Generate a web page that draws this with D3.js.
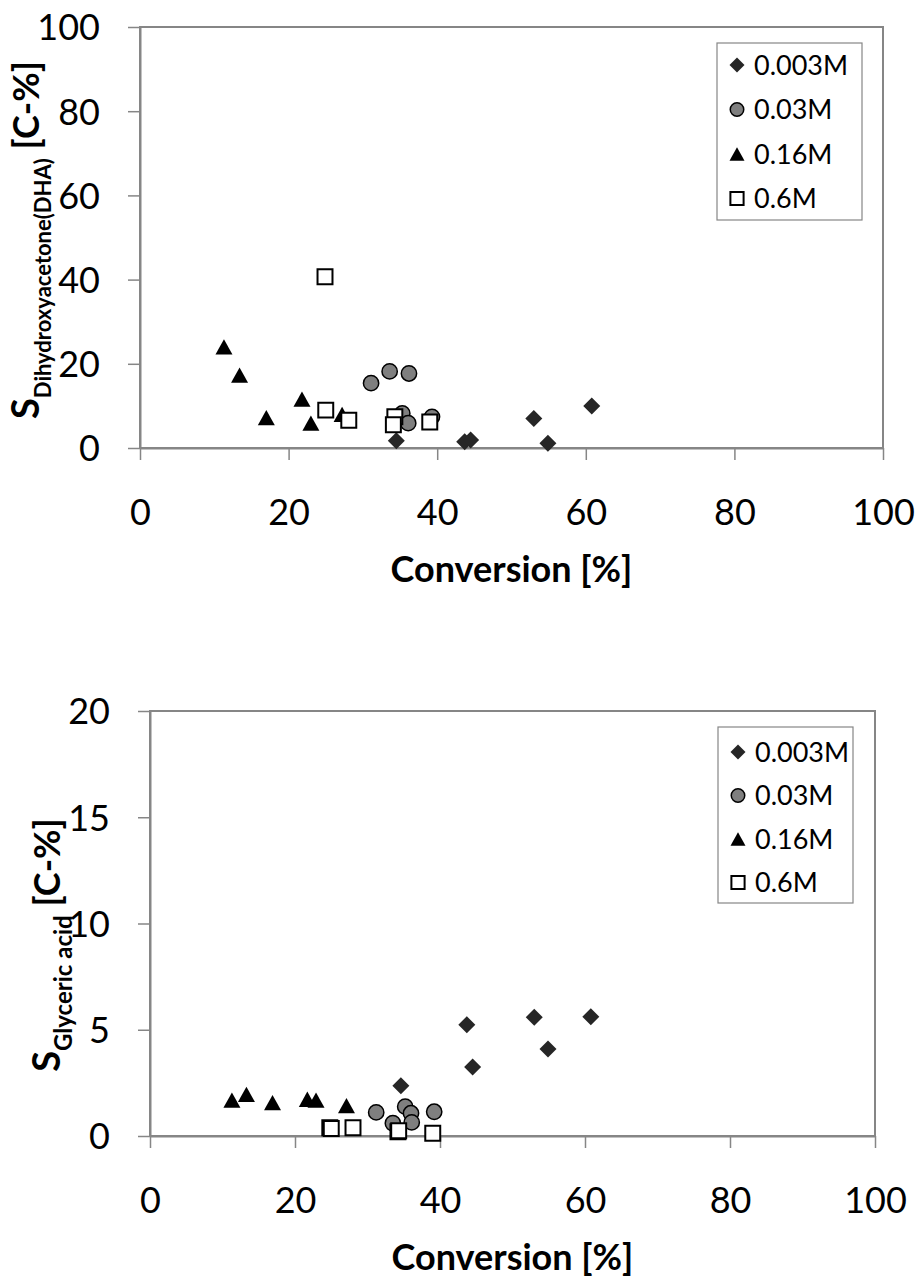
<!DOCTYPE html>
<html>
<head>
<meta charset="utf-8">
<script src="https://cdn.jsdelivr.net/npm/d3@7"></script>
<style>
  body { margin: 0; background: #fff; }
  svg { display: block; font-family: Lato, "Open Sans", sans-serif; }
</style>
</head>
<body>
<svg width="917" height="1278"></svg>
<script>
// series names
const seriesNames = ["0.003M", "0.03M", "0.16M", "0.6M"];

// top chart: selectivity to dihydroxyacetone
const dhaConv003 = [34.5, 43.7, 44.5, 53.0, 54.9, 60.8];
const dhaSel003 = [1.7, 1.5, 1.9, 7.0, 1.1, 10.0];
const dhaConv03 = [31.1, 33.6, 36.2, 35.3, 36.1, 39.3];
const dhaSel03 = [15.4, 18.2, 17.7, 8.2, 5.9, 7.4];
const dhaConv16 = [11.3, 13.4, 17.0, 21.8, 23.0, 27.2];
const dhaSel16 = [24.0, 17.3, 7.2, 11.6, 5.9, 8.0];
const dhaConv6 = [24.9, 25.0, 28.1, 34.3, 34.1, 39.0];
const dhaSel6 = [40.7, 9.0, 6.6, 7.4, 5.5, 6.2];

// bottom chart: selectivity to glyceric acid
const gaConv003 = [34.6, 43.7, 44.5, 53.0, 54.9, 60.8];
const gaSel003 = [2.37, 5.24, 3.25, 5.59, 4.09, 5.61];
const gaConv03 = [31.2, 33.5, 35.2, 36.0, 36.1, 39.2];
const gaSel03 = [1.11, 0.60, 1.38, 1.07, 0.64, 1.14];
const gaConv16 = [11.3, 13.3, 16.9, 21.7, 22.9, 27.1];
const gaSel16 = [1.69, 1.96, 1.57, 1.73, 1.69, 1.43];
const gaConv6 = [24.8, 25.0, 28.0, 34.2, 34.3, 39.0];
const gaSel6 = [0.39, 0.35, 0.39, 0.20, 0.25, 0.13];

const xTicks = [0, 20, 40, 60, 80, 100];
const dhaTicks = [0, 20, 40, 60, 80, 100];
const gaTicks = [0, 5, 10, 15, 20];

const svg = d3.select("svg");
const axisColor = "#868686";

// marker path builders, all centred on (0,0)
function markerPath(kind, s) {
  const p = d3.path();
  if (kind === 0) {          // diamond
    p.moveTo(0, -s); p.lineTo(s, 0); p.lineTo(0, s); p.lineTo(-s, 0); p.closePath();
  } else if (kind === 1) {   // circle
    p.arc(0, 0, s * 0.9, 0, 2 * Math.PI);
  } else if (kind === 2) {   // triangle
    p.moveTo(0, -s * 0.9); p.lineTo(s, s * 0.9); p.lineTo(-s, s * 0.9); p.closePath();
  } else {                   // square
    const h = s * 0.88;
    p.rect(-h, -h, 2 * h, 2 * h);
  }
  return p.toString();
}
const markerFill = ["#262626", "#7f7f7f", "#000", "#fff"];
const markerStroke = ["none", "#000", "none", "#000"];
const markerWidth = [0, 1.5, 0, 2];

function drawChart(cfg) {
  const x = d3.scaleLinear().domain([0, 100]).range([cfg.left, cfg.right]);
  const y = d3.scaleLinear().domain([0, cfg.yMax]).range([cfg.bottom, cfg.top]);
  const g = svg.append("g");

  // plot area frame (top/right)
  g.append("rect")
    .attr("x", cfg.left).attr("y", cfg.top)
    .attr("width", cfg.right - cfg.left).attr("height", cfg.bottom - cfg.top)
    .attr("fill", "none").attr("stroke", axisColor).attr("stroke-width", 2);

  const xAxis = d3.axisBottom(x).tickValues(xTicks).tickSize(12).tickSizeOuter(0).tickFormat(d3.format("d"));
  const yAxis = d3.axisLeft(y).tickValues(cfg.yTicks).tickSize(12).tickSizeOuter(0).tickFormat(d3.format("d"));

  const gx = g.append("g").attr("transform", `translate(0,${cfg.bottom})`).call(xAxis);
  const gy = g.append("g").attr("transform", `translate(${cfg.left},0)`).call(yAxis);
  [gx, gy].forEach(a => {
    a.attr("font-family", null).attr("font-size", null);
    a.select(".domain").attr("stroke", axisColor).attr("stroke-width", 2);
    a.selectAll(".tick line").attr("stroke", axisColor).attr("stroke-width", 1.5);
    a.selectAll(".tick text").attr("fill", "#000").attr("font-size", 36);
  });
  gx.selectAll(".tick text").attr("y", 0).attr("dy", 0).attr("transform", "translate(0,77)");
  gy.selectAll(".tick text").attr("x", -cfg.labelGap).attr("dy", "0.36em");

  // series, drawn in legend order
  cfg.series.forEach((s, k) => {
    g.append("g").selectAll("path")
      .data(d3.zip(s[0], s[1]))
      .join("path")
      .attr("transform", d => `translate(${x(d[0])},${y(d[1])})`)
      .attr("d", markerPath(k, 8.5))
      .attr("fill", markerFill[k])
      .attr("stroke", markerStroke[k])
      .attr("stroke-width", markerWidth[k]);
  });

  // x title
  g.append("text")
    .text("Conversion [%]")
    .attr("x", (cfg.left + cfg.right) / 2)
    .attr("y", cfg.bottom + 134)
    .attr("text-anchor", "middle")
    .attr("font-size", 36).attr("font-weight", "bold");

  // y title with subscript
  const yt = g.append("text")
    .attr("transform", `translate(${cfg.yTitleX},${cfg.yTitleY}) rotate(-90)`)
    .attr("text-anchor", "middle")
    .attr("font-weight", "bold");
  yt.append("tspan").text("S").attr("font-size", 38);
  yt.append("tspan").text(cfg.sub).attr("font-size", cfg.subSize).attr("dy", 12);
  yt.append("tspan").text(" [C-%]").attr("font-size", 36).attr("dy", -12);

  // legend
  const lg = g.append("g").attr("transform", `translate(${cfg.legend[0]},${cfg.legend[1]})`);
  lg.append("rect")
    .attr("width", cfg.legend[2]).attr("height", cfg.legend[3])
    .attr("fill", "#fff").attr("stroke", axisColor).attr("stroke-width", 1.2);
  seriesNames.forEach((name, k) => {
    const row = lg.append("g").attr("transform", `translate(20,${cfg.legendRow0 + k * cfg.legendStep})`);
    row.append("path")
      .attr("d", markerPath(k, 7.5))
      .attr("fill", markerFill[k])
      .attr("stroke", markerStroke[k])
      .attr("stroke-width", markerWidth[k]);
    row.append("text").text(name)
      .attr("x", 17).attr("dy", "0.36em")
      .attr("font-size", 27);
  });
}

drawChart({
  left: 140, right: 883, top: 27, bottom: 448, yMax: 100, yTicks: dhaTicks, labelGap: 40,
  series: [[dhaConv003, dhaSel003], [dhaConv03, dhaSel03], [dhaConv16, dhaSel16], [dhaConv6, dhaSel6]],
  sub: "Dihydroxyacetone(DHA)", subSize: 22, yTitleX: 39, yTitleY: 240,
  legend: [717, 43, 145, 177], legendRow0: 22, legendStep: 44.5
});

drawChart({
  left: 150, right: 875, top: 711, bottom: 1136, yMax: 20, yTicks: gaTicks, labelGap: 40,
  series: [[gaConv003, gaSel003], [gaConv03, gaSel03], [gaConv16, gaSel16], [gaConv6, gaSel6]],
  sub: "Glyceric acid", subSize: 24, yTitleX: 60, yTitleY: 945,
  legend: [718, 727, 135, 176], legendRow0: 25, legendStep: 43.5
});
</script>
</body>
</html>
